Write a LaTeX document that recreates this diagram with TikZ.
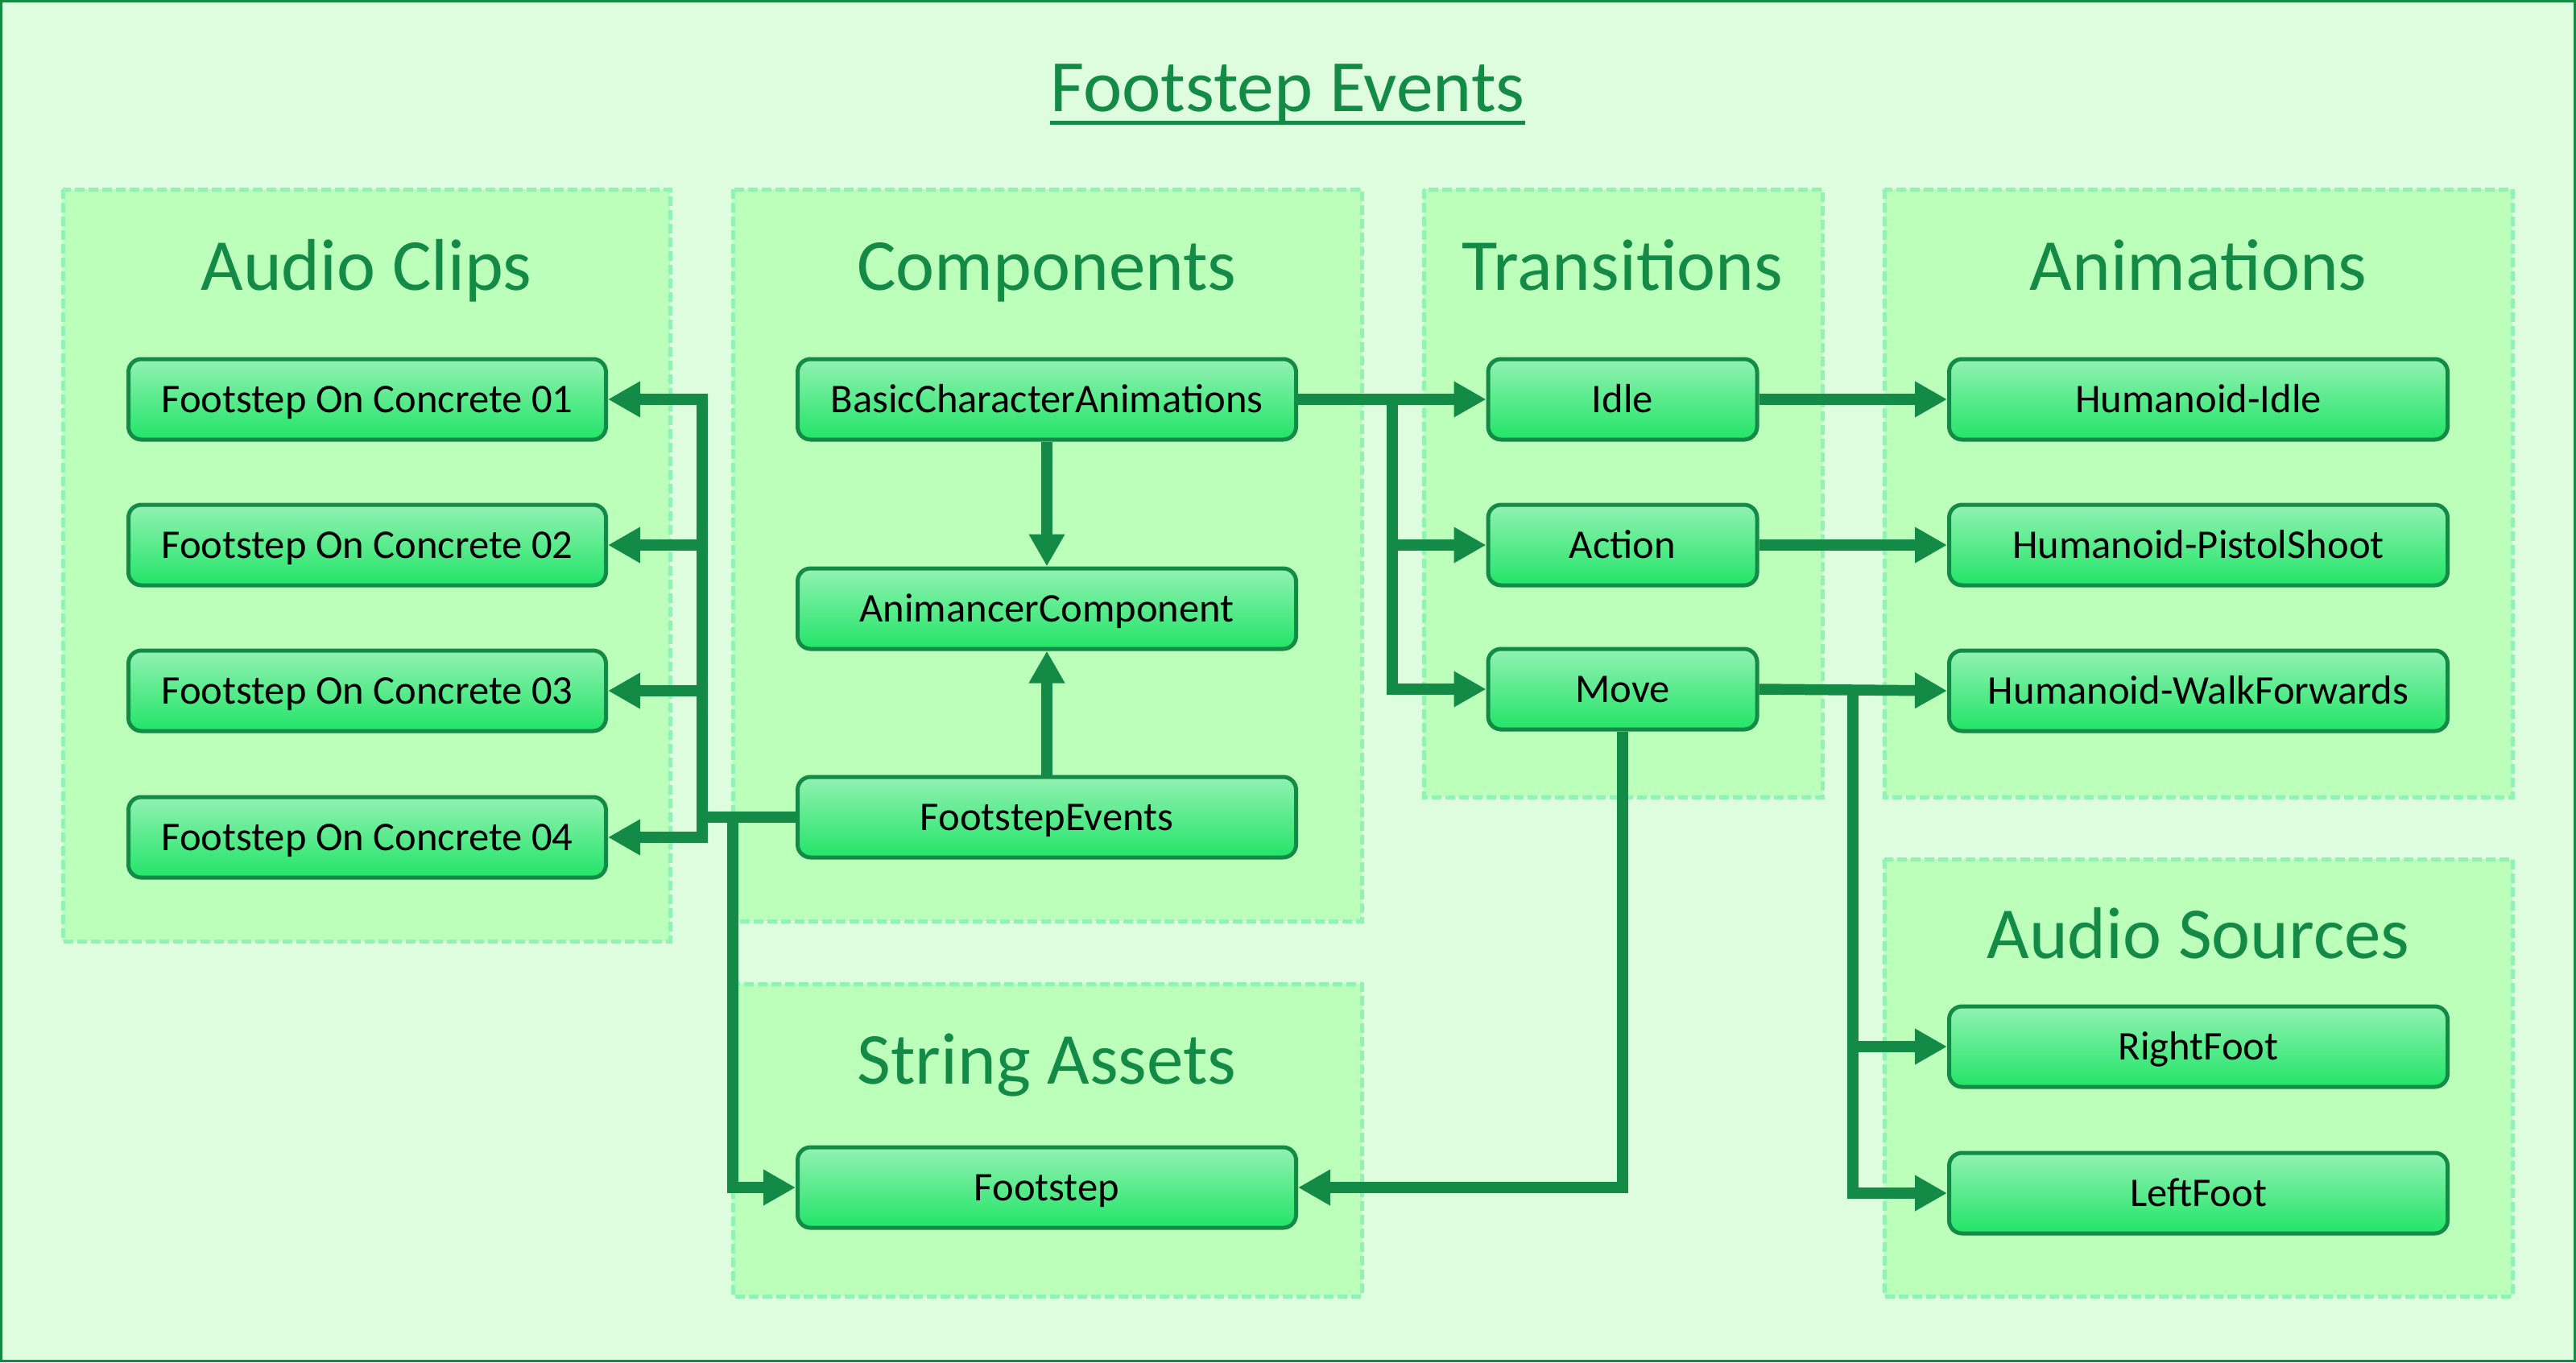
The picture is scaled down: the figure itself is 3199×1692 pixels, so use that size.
\documentclass[tikz,border=0pt]{standalone}
\usepackage{fontspec}
\setmainfont{Carlito}
\usetikzlibrary{arrows.meta}
\definecolor{dkg}{HTML}{138A46}
\definecolor{bgc}{HTML}{DEFDDE}
\definecolor{grpfill}{HTML}{BBFFBB}
\definecolor{grpline}{HTML}{90F2B4}
\definecolor{ntop}{HTML}{92F2B2}
\definecolor{nbot}{HTML}{22E468}
\begin{document}
\begin{tikzpicture}[x=0.5pt,y=-0.5pt,
  grp/.style={fill=grpfill, draw=grpline, line width=2.5pt, dash pattern=on 6pt off 2.5pt},
  grptitle/.style={anchor=base, text=dkg, font=\fontsize{45.5}{50}\selectfont, inner sep=0pt},
  box/.style={draw=dkg, line width=2.5pt, rounded corners=8pt, top color=ntop, bottom color=nbot,
    minimum height=50pt, inner sep=0pt, text height=16.8pt, text depth=0pt,
    font=\fontsize{25.3}{30}\selectfont, align=center},
  clipbox/.style={box, minimum width=296.5pt},
  widebox/.style={box, minimum width=309.5pt},
  trbox/.style={box, minimum width=167pt},
  conn/.style={draw=dkg, line width=6.75pt, line join=miter, -{Triangle[length=20pt,width=21pt]}}
]
\useasboundingbox (0,0) rectangle (3199,1692);
\fill[bgc] (0,0) rectangle (3199,1692);
\draw[dkg, line width=1.5pt] (1.5,1.5) rectangle (3197.5,1690.5);

% title
\node[anchor=base, text=dkg, font=\fontsize{45.8}{50}\selectfont, inner sep=0pt] (title) at (1599,138) {Footstep Events};
\draw[dkg, line width=2.5pt] ([yshift=-7pt]title.base west) -- ([yshift=-7pt]title.base east);

% groups
\draw[grp] (78,235) rectangle (832,1169);
\draw[grp] (910,235) rectangle (1691,1144);
\draw[grp] (1768,235) rectangle (2263,990);
\draw[grp] (2340,235) rectangle (3120,990);
\draw[grp] (2340,1067) rectangle (3120,1610);
\draw[grp] (910,1222) rectangle (1691,1610);

\node[grptitle] (hAC) at (455,360) {Audio Clips};
\node[grptitle] (hCo) at (1300,360) {Components};
\node[grptitle] (hTr) at (2015,360) {Transitions};
\node[grptitle] (hAn) at (2730,360) {Animations};
\node[grptitle] (hAS) at (2730,1190) {Audio Sources};
\node[grptitle] (hSA) at (1300,1346) {String Assets};

% nodes
\node[clipbox] (fc1) at (456,496) {Footstep On Concrete 01};
\node[clipbox] (fc2) at (456,677) {Footstep On Concrete 02};
\node[clipbox] (fc3) at (456,858) {Footstep On Concrete 03};
\node[clipbox] (fc4) at (456,1040) {Footstep On Concrete 04};

\node[widebox] (bca) at (1300,496) {BasicCharacterAnimations};
\node[widebox] (ac) at (1300,756) {AnimancerComponent};
\node[widebox] (fe) at (1300,1015) {FootstepEvents};
\node[widebox] (fs) at (1300,1475) {Footstep};

\node[trbox] (idle) at (2015,496) {Idle};
\node[trbox] (action) at (2015,677) {Action};
\node[trbox] (move) at (2015,856) {Move};

\node[widebox] (hi) at (2730,496) {Humanoid-Idle};
\node[widebox] (hp) at (2730,677) {Humanoid-PistolShoot};
\node[widebox] (hw) at (2730,858) {Humanoid-WalkForwards};

\node[widebox] (rf) at (2730,1300) {RightFoot};
\node[widebox] (lf) at (2730,1482) {LeftFoot};

% junction coordinates
\coordinate (jL) at (872,1015);
\coordinate (jS) at (910,1015);
\coordinate (jT) at (1729,496);
\coordinate (jM) at (2301,856);

% connectors
\draw[conn] (fe.west) -- (jL) |- (fc1.east);
\draw[conn] (jL) |- (fc2.east);
\draw[conn] (jL) |- (fc3.east);
\draw[conn] (jL) |- (fc4.east);
\draw[conn] (jS) |- (fs.west);

\draw[conn] (bca.south) -- (ac.north);
\draw[conn] (fe.north) -- (ac.south);

\draw[conn] (bca.east) -- (idle.west);
\draw[conn] (jT) |- (action.west);
\draw[conn] (jT) |- (move.west);

\draw[conn] (idle.east) -- (hi.west);
\draw[conn] (action.east) -- (hp.west);
\draw[conn] (move.east) -- (hw.west);
\draw[conn] (jM) |- (rf.west);
\draw[conn] (jM) |- (lf.west);

\draw[conn] (move.south) |- (fs.east);
\end{tikzpicture}
\end{document}
